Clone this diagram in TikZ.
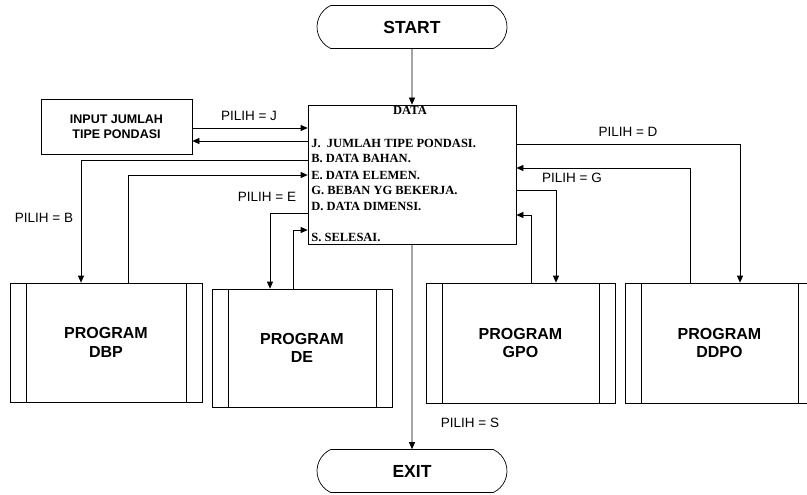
\documentclass[tikz,border=0pt]{standalone}
\usepackage{fontspec}
\setmainfont{Liberation Serif}
\newfontfamily\arial{Liberation Sans}
\usetikzlibrary{shapes.misc,arrows.meta}
\begin{document}
\begin{tikzpicture}[x=1pt,y=-1pt,
  line width=0.7pt,
  arr/.style={-{Triangle[length=7pt,width=6pt]}},
  term/.style={draw,rounded rectangle,rounded rectangle arc length=130,minimum width=190pt,minimum height=43pt,inner sep=0pt,font=\arial\bfseries\fontsize{17.5}{20}\selectfont},
  prog/.style={draw,rectangle,inner sep=0pt,align=center,font=\arial\bfseries\fontsize{16}{18.5}\selectfont,
    path picture={
      \draw ([xshift=16pt]path picture bounding box.north west) -- ([xshift=16pt]path picture bounding box.south west);
      \draw ([xshift=-16pt]path picture bounding box.north east) -- ([xshift=-16pt]path picture bounding box.south east);}},
  lbl/.style={inner sep=0pt,font=\arial\fontsize{13.5}{15}\selectfont},
  dtxt/.style={anchor=base west,inner sep=0pt,font=\bfseries\fontsize{12.5}{14}\selectfont},
]
\useasboundingbox (0,0) rectangle (807,495);
\fill[white] (0,0) rectangle (807,495);

% terminals
\node[term] (start) at (412,27) {START};
\node[term] (exit) at (412,471) {EXIT};

% data box
\node[draw,rectangle,minimum width=208pt,minimum height=139pt,inner sep=0pt] (data) at (412,174.5) {};
\node[inner sep=0pt,anchor=base,font=\bfseries\fontsize{12.5}{14}\selectfont] (dt) at (410,115) {DATA};
\node[dtxt] (d1) at (311,147) {J.\ \ JUMLAH TIPE PONDASI.};
\node[dtxt] (d2) at (311,163) {B. DATA BAHAN.};
\node[dtxt] (d3) at (311,179) {E. DATA ELEMEN.};
\node[dtxt] (d4) at (311,194) {G. BEBAN YG BEKERJA.};
\node[dtxt] (d5) at (311,210) {D. DATA DIMENSI.};
\node[dtxt] (d6) at (311,241) {S. SELESAI.};

% input box
\node[draw,rectangle,minimum width=151pt,minimum height=55pt,inner sep=0pt,align=center,
  font=\arial\bfseries\fontsize{12.5}{15}\selectfont] (input) at (116.5,126.5) {INPUT JUMLAH\\TIPE PONDASI};

% program boxes
\node[prog,minimum width=192pt,minimum height=119pt] (dbp) at (106,342.5) {PROGRAM\\DBP};
\node[prog,minimum width=180pt,minimum height=118pt] (de) at (302,348) {PROGRAM\\DE};
\node[prog,minimum width=189pt,minimum height=120pt] (gpo) at (520.5,343) {PROGRAM\\GPO};
\node[prog,minimum width=189pt,minimum height=120pt] (ddpo) at (719.5,343) {PROGRAM\\DDPO};

% connectors
\draw[arr] (start) -- (data);
\draw[arr] (data) -- (exit);

\draw[arr] (input.east|-0,128) -- (data.west|-0,128);
\draw[arr] (data.west|-0,141) -- (input.east|-0,141);

\draw[arr] (data.west|-0,160) -| ([xshift=-25pt]dbp.north);
\draw[arr] ([xshift=22pt]dbp.north) |- (data.west|-0,175);

\draw[arr] (data.west|-0,213) -| ([xshift=-32pt]de.north);
\draw[arr] ([xshift=-9pt]de.north) |- (data.west|-0,230);

\draw[arr] (data.east|-0,144) -| ([xshift=20.5pt]ddpo.north);
\draw[arr] ([xshift=-29.5pt]ddpo.north) |- (data.east|-0,168);

\draw[arr] (data.east|-0,190) -| ([xshift=35.5pt]gpo.north);
\draw[arr] ([xshift=10.5pt]gpo.north) |- (data.east|-0,215);

% labels
\node[lbl] (lj) at (249,116) {PILIH = J};
\node[lbl] (lb) at (44,218) {PILIH = B};
\node[lbl] (le) at (267,197) {PILIH = E};
\node[lbl] (ld) at (628,132) {PILIH = D};
\node[lbl] (lg) at (572,178) {PILIH = G};
\node[lbl] (ls) at (470,423) {PILIH = S};
\end{tikzpicture}
\end{document}
